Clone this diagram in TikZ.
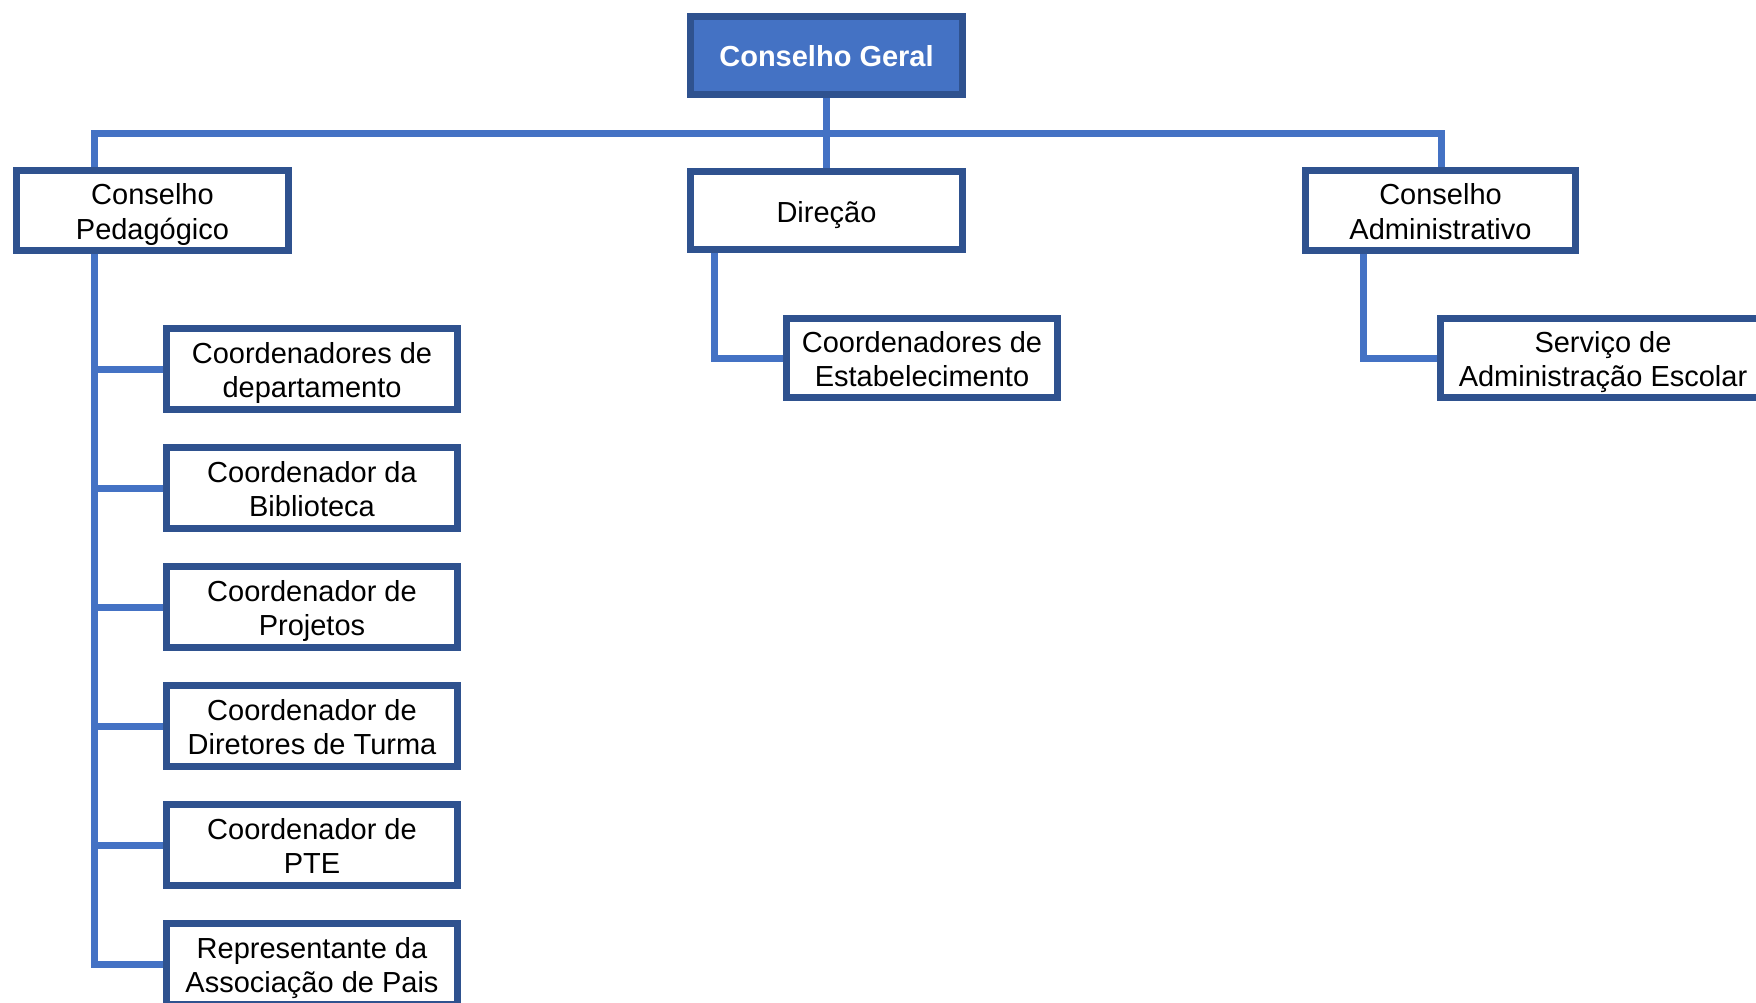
\documentclass[tikz,border=0pt]{standalone}
\usepackage{fontspec}
\setmainfont{Liberation Sans}
\usetikzlibrary{backgrounds}
\definecolor{bordc}{HTML}{2F528F}
\definecolor{fillc}{HTML}{4472C4}
\definecolor{linec}{HTML}{4472C4}
\tikzset{
  box/.style={draw=bordc, line width=7pt, fill=white, rectangle, inner sep=0pt},
  tx/.style={align=center, inner sep=0pt, yshift=-6pt, text=black,
    font=\fontsize{29}{34.5}\selectfont,
    execute at begin node=\strut, execute at end node=\strut},
  stx/.style={tx, yshift=1pt},
  htx/.style={tx, yshift=2pt, text=white, font=\fontsize{29}{34.5}\selectfont\bfseries},
  topbox/.style={box, minimum width=272pt, minimum height=80pt},
  childbox/.style={box, minimum width=291pt, minimum height=81pt},
  headbox/.style={box, fill=fillc, minimum width=272pt, minimum height=78pt},
  conn/.style={draw=linec, line width=7pt, line join=miter}
}
\begin{document}
\begin{tikzpicture}[x=1pt,y=-1pt]
\clip (0,0) rectangle (1756,1002);
\useasboundingbox (0,0) rectangle (1756,1002);
\node[headbox, label={[htx]center:Conselho Geral}] (geral) at (826.5,55.5) {};
\node[topbox, minimum height=78pt, label={[stx]center:Direção}] (direcao) at (826.5,210.5) {};
\node[topbox, label={[tx]center:{Conselho\\Pedagógico}}] (ped) at (152.5,210.5) {};
\node[topbox, minimum width=270pt, label={[tx]center:{Conselho\\Administrativo}}] (adm) at (1440.5,210.5) {};
\node[childbox, minimum width=271pt, minimum height=79pt, label={[tx]center:{Coordenadores de\\Estabelecimento}}] (estab) at (922,358) {};
\node[childbox, minimum width=326pt, minimum height=79pt, label={[tx]center:{Serviço de\\Administração Escolar}}] (serv) at (1603,358) {};
\node[childbox, label={[tx]center:{Coordenadores de\\departamento}}] (c1) at (312,369) {};
\node[childbox, label={[tx]center:{Coordenador da\\Biblioteca}}] (c2) at (312,488) {};
\node[childbox, label={[tx]center:{Coordenador de\\Projetos}}] (c3) at (312,607) {};
\node[childbox, label={[tx]center:{Coordenador de\\Diretores de Turma}}] (c4) at (312,726) {};
\node[childbox, label={[tx]center:{Coordenador de\\PTE}}] (c5) at (312,845) {};
\node[childbox, label={[tx]center:{Representante da\\Associação de Pais}}] (c6) at (312,964) {};
\coordinate (hl) at (94,133);
\coordinate (hr) at (1441,133);
\begin{scope}[on background layer]
\draw[conn] (geral.south) -- (direcao.north);
\draw[conn] (ped.north -| hl) -- (hl) -- (hr) -- (adm.north -| hr);
\draw[conn] (ped.south -| hl) -- (hl |- c6.west) -- (c6.west);
\foreach \c in {c1,c2,c3,c4,c5} { \draw[conn] (hl |- \c.west) -- (\c.west); }
\draw[conn] (direcao.south -| 714,0) -- (714,0 |- estab.west) -- (estab.west);
\draw[conn] (adm.south -| 1363,0) -- (1363,0 |- serv.west) -- (serv.west);
\end{scope}
\end{tikzpicture}
\end{document}
